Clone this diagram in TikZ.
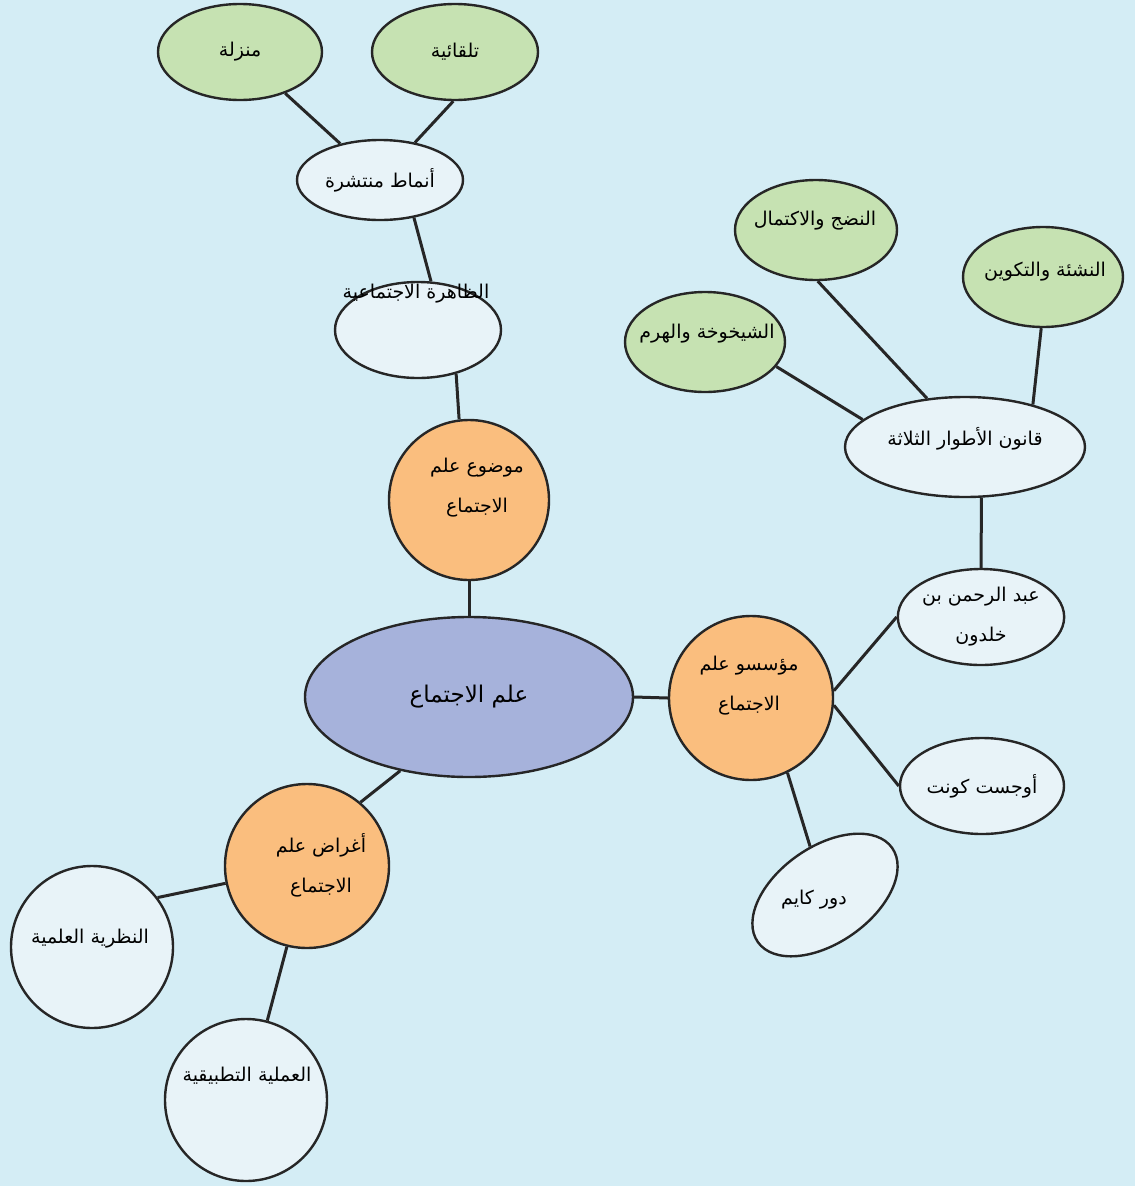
\documentclass[tikz,border=0pt]{standalone}
\usepackage{fontspec}
\usetikzlibrary{shapes.geometric}
\newfontfamily\arabicfont[Script=Arabic]{DejaVu Sans}
\TeXXeTstate=1
\newcommand{\artxt}[1]{\beginR #1\endR}
\definecolor{bgcol}{RGB}{212,237,245}
\definecolor{greencol}{RGB}{198,226,178}
\definecolor{orangecol}{RGB}{250,190,126}
\definecolor{lavcol}{RGB}{166,178,219}
\definecolor{palecol}{RGB}{232,243,248}
\definecolor{edgecol}{RGB}{38,38,38}
\begin{document}
\begin{tikzpicture}[x=1pt,y=-1pt,
  base/.style={draw=edgecol, line width=2.4pt, inner sep=0pt, align=center,
    font=\arabicfont\fontsize{19}{40}\selectfont},
  ov/.style 2 args={base, ellipse, minimum width=#1, minimum height=#2},
  circ/.style={base, circle, minimum size=#1},
  greennode/.style={fill=greencol},
  orangenode/.style={fill=orangecol},
  palenode/.style={fill=palecol},
  centernode/.style={fill=lavcol, font=\arabicfont\fontsize{23}{40}\selectfont},
  txt/.style={inner sep=0pt, align=center, font=\arabicfont\fontsize{19}{40}\selectfont},
  link/.style={draw=edgecol, line width=3pt}]
\fill[bgcol] (0,0) rectangle (1135,1186);
\useasboundingbox (0,0) rectangle (1135,1186);

% nodes
\node[ov={164}{96}, greennode] (manz) at (240,52) {\artxt{منزلة}};
\node[ov={166}{96}, greennode] (tal) at (455,52) {\artxt{تلقائية}};
\node[ov={166}{80}, palenode] (anm) at (380,180) {\artxt{أنماط منتشرة}};
\node[ov={166}{96}, palenode] (zah) at (418,330) {};
\node[txt] (zahT) at (416,294) {\artxt{الظاهرة الاجتماعية}};
\node[circ=160, orangenode] (maw) at (469,500) {};
\node[txt] (mawT) at (477,488) {\artxt{موضوع علم}\\\artxt{الاجتماع}};
\node[ov={328}{160}, centernode] (cen) at (469,697) {\artxt{علم الاجتماع}};
\node[circ=164, orangenode] (mua) at (751,698) {};
\node[txt] (muaT) at (749,686) {\artxt{مؤسسو علم}\\\artxt{الاجتماع}};
\node[ov={166}{96}, palenode] (abd) at (981,617) {\artxt{عبد الرحمن بن}\\\artxt{خلدون}};
\node[ov={164}{96}, palenode] (awj) at (982,786) {\artxt{أوجست كونت}};
\node[ov={164}{96}, palenode, rotate=35] (dur) at (825,895) {};
\node[txt] (durT) at (814,900) {\artxt{دور كايم}};
\node[circ=164, orangenode] (agh) at (307,866) {};
\node[txt] (aghT) at (321,865) {\artxt{أغراض علم}\\\artxt{الاجتماع}};
\node[circ=162, palenode] (naz) at (92,947) {};
\node[txt] (nazT) at (90,939) {\artxt{النظرية العلمية}};
\node[circ=162, palenode] (ama) at (246,1100) {};
\node[txt] (amaT) at (247,1076) {\artxt{العملية التطبيقية}};
\node[ov={162}{100}, greennode] (nud) at (816,230) {};
\node[txt] (nudT) at (815,221) {\artxt{النضج والاكتمال}};
\node[ov={160}{100}, greennode] (nas) at (1043,277) {};
\node[txt] (nasT) at (1045,272) {\artxt{النشئة والتكوين}};
\node[ov={160}{100}, greennode] (shy) at (705,342) {};
\node[txt] (shyT) at (707,334) {\artxt{الشيخوخة والهرم}};
\node[ov={240}{100}, palenode] (qan) at (965,447) {};
\node[txt] (qanT) at (965,439) {\artxt{قانون الأطوار الثلاثة}};

% connectors
\draw[link] (manz) -- (anm);
\draw[link] (tal.268) -- (anm.47);
\draw[link] (anm.312) -- (zah.75);
\draw[link] (zah.311) -- (maw.97);
\draw[link] (maw.south) -- (cen.north);
\draw[link] (cen.east) -- (mua.west);
\draw[link] (mua.5) -- (abd.west);
\draw[link] (mua.-5) -- (awj.west);
\draw[link] (mua.296) -- (dur);
\draw[link] (cen.227) -- (agh.50);
\draw[link] (agh.192) -- (naz.37);
\draw[link] (agh.256) -- (ama.75);
\draw[link] (shy.341) -- (qan.165);
\draw[link] (nud.272) -- (qan.128);
\draw[link] (nas.268) -- (qan.32);
\draw[link] (qan.288) -- (abd.north);
\end{tikzpicture}
\end{document}
